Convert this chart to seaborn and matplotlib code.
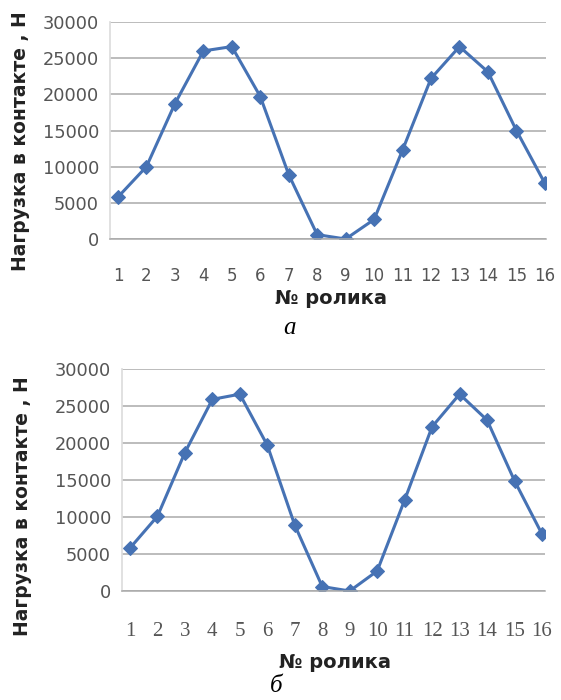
import numpy as np
import pandas as pd
import matplotlib
matplotlib.use('Agg')
import matplotlib.pyplot as plt
import seaborn as sns

# ---- data ----
rollers = list(range(1, 17))
load_a = [5800, 10000, 18700, 26000, 26600, 19700, 8900, 600,
          0, 2700, 12300, 22200, 26600, 23100, 15000, 7700]
load_b = [5800, 10100, 18700, 25900, 26600, 19700, 8900, 600,
          0, 2700, 12300, 22200, 26600, 23100, 14900, 7700]
y_ticks = [0, 5000, 10000, 15000, 20000, 25000, 30000]

ylabel = 'Нагрузка в контакте , Н'
xlabel = '№ ролика'

sns.set_theme(style='white')
plt.rcParams['font.family'] = ['DejaVu Sans']

line_color = '#4672B4'
grid_color = '#a9a9a9'
tick_color = '#555555'

W, H = 561, 700
fig = plt.figure(figsize=(W / 100, H / 100), dpi=100)


def px_axes(left, right, top, bottom):
    return fig.add_axes([left / W, 1 - bottom / H, (right - left) / W, (bottom - top) / H])


def draw(ax, vals, xlim, xtick_font, xtick_size, xpad, ylab_xy, xlab_xy):
    df = pd.DataFrame({'roller': rollers, 'load': vals})
    sns.lineplot(data=df, x='roller', y='load', ax=ax, color=line_color,
                 linewidth=2.2, marker='D', markersize=7,
                 markerfacecolor=line_color, markeredgecolor=line_color)
    ax.set_xlim(*xlim)
    ax.set_ylim(0, 30000)
    ax.set_yticks(y_ticks)
    ax.set_xticks(rollers)
    ax.set_xticklabels([str(r) for r in rollers], family=xtick_font,
                       fontsize=xtick_size, color=tick_color)
    ax.set_yticklabels([str(v) for v in y_ticks], fontsize=12.8, color=tick_color)
    ax.yaxis.grid(True, color=grid_color, linewidth=1.1)
    ax.xaxis.grid(False)
    for s in ['top', 'right']:
        ax.spines[s].set_visible(False)
    ax.spines['left'].set_color('#dddddd')
    ax.spines['bottom'].set_color(grid_color)
    ax.spines['bottom'].set_linewidth(1.1)
    ax.tick_params(axis='x', length=4, width=0.8, color='#cccccc', pad=xpad)
    ax.tick_params(axis='y', length=0, pad=8)
    ax.set_ylabel(ylabel, fontsize=13.5, fontweight='bold', color='#222222')
    ax.yaxis.set_label_coords(*ylab_xy)
    ax.yaxis.label.set_va('center')
    ax.set_xlabel(xlabel, fontsize=14, fontweight='bold', color='#222222')
    ax.xaxis.set_label_coords(*xlab_xy)
    ax.xaxis.label.set_va('center')


# panel a
ax1 = px_axes(110, 546, 22, 239)
draw(ax1, load_a, (0.72, 16.04), 'DejaVu Sans', 12, 16,
     (-0.206, 0.452), (0.507, -0.276))
fig.text(290 / W, 1 - 328 / H, 'а', family='Liberation Serif', style='italic',
         fontsize=18, ha='center', va='center', color='black')

# panel b
ax2 = px_axes(122, 545, 369, 591)
draw(ax2, load_b, (0.71, 16.11), 'Liberation Serif', 15, 18,
     (-0.236, 0.383), (0.503, -0.32))
fig.text(276 / W, 1 - 686 / H, 'б', family='Liberation Serif', style='italic',
         fontsize=18, ha='center', va='center', color='black')

fig.savefig('out.png', dpi=100)
